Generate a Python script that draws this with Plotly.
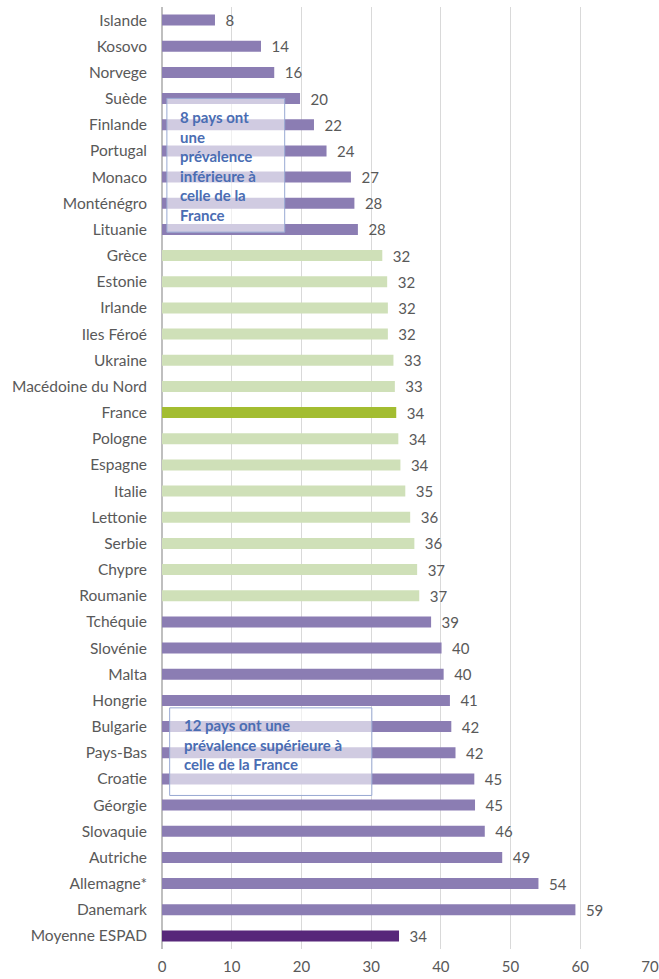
import plotly.graph_objects as go

# Countries listed top to bottom as in the chart
countries = [
    "Islande", "Kosovo", "Norvege", "Suède", "Finlande", "Portugal", "Monaco",
    "Monténégro", "Lituanie", "Grèce", "Estonie", "Irlande", "Iles Féroé",
    "Ukraine", "Macédoine du Nord", "France", "Pologne", "Espagne", "Italie",
    "Lettonie", "Serbie", "Chypre", "Roumanie", "Tchéquie", "Slovénie", "Malta",
    "Hongrie", "Bulgarie", "Pays-Bas", "Croatie", "Géorgie", "Slovaquie",
    "Autriche", "Allemagne*", "Danemark", "Moyenne ESPAD",
]
values = [
    7.6, 14.2, 16.1, 19.8, 21.8, 23.6, 27.1, 27.6, 28.1, 31.6, 32.3, 32.4,
    32.4, 33.2, 33.4, 33.6, 33.9, 34.2, 34.9, 35.6, 36.2, 36.6, 36.9, 38.6,
    40.1, 40.4, 41.3, 41.5, 42.1, 44.8, 44.9, 46.3, 48.8, 54.0, 59.3, 34.0,
]
groups = (["lower"] * 9 + ["similar"] * 6 + ["france"] + ["similar"] * 7
          + ["higher"] * 12 + ["mean"])

group_colors = {
    "lower": "#8b7db3",
    "higher": "#8b7db3",
    "similar": "#cfe0b8",
    "france": "#a3bd31",
    "mean": "#57277a",
}

note_low = "8 pays ont<br>une<br>prévalence<br>inférieure à<br>celle de la<br>France"
note_high = "12 pays ont une<br>prévalence supérieure à<br>celle de la France"

text_grey = "#595959"
note_blue = "#4a6db3"
font_family = "Lato, 'Open Sans', sans-serif"

fig = go.Figure(
    go.Bar(
        x=values,
        y=countries,
        orientation="h",
        marker=dict(color=[group_colors[g] for g in groups], line=dict(width=0)),
        width=0.42,
        texttemplate="\u2002%{x:.0f}",
        textposition="outside",
        constraintext="none",
        textfont=dict(size=15, color=text_grey, family=font_family),
        cliponaxis=False,
        hoverinfo="x+y",
    )
)

fig.update_xaxes(
    range=[0, 70], tick0=0, dtick=10,
    showgrid=True, gridcolor="#d9d9d9", gridwidth=1,
    zeroline=True, zerolinecolor="#bfbfbf", zerolinewidth=2,
    showline=False, automargin=False,
    tickfont=dict(size=15, color=text_grey, family=font_family),
    ticks="", ticklabelstandoff=7,
)
fig.update_yaxes(
    autorange="reversed",
    showgrid=False, automargin=False,
    tickfont=dict(size=15.5, color=text_grey, family=font_family),
    ticks="", ticklabelstandoff=14,
)

# Semi-transparent note boxes drawn over the bars
box_style = dict(type="rect", xref="x", yref="paper", layer="above",
                 line=dict(color="#98a9d3", width=1),
                 fillcolor="rgba(255,255,255,0.6)")
fig.add_shape(x0=0.7, x1=17.6, y0=0.761, y1=0.903, **box_style)
fig.add_shape(x0=1.1, x1=30.1, y0=0.163, y1=0.256, **box_style)

note_font = dict(size=15, color=note_blue, family=font_family)
fig.add_annotation(x=2.3, y=0.895, xref="x", yref="paper", text="<b>" + note_low + "</b>",
                   showarrow=False, xanchor="left", yanchor="top", align="left",
                   font=note_font)
fig.add_annotation(x=2.8, y=0.249, xref="x", yref="paper", text="<b>" + note_high + "</b>",
                   showarrow=False, xanchor="left", yanchor="top", align="left",
                   font=note_font)

fig.update_layout(
    width=659, height=979,
    margin=dict(l=162, r=9, t=7, b=30),
    plot_bgcolor="white", paper_bgcolor="white",
    showlegend=False,
)

# drop the default body margin so the figure fills the window exactly
fig.write_html("out.html", config={"displayModeBar": False},
               post_script="document.body.style.margin='0';")
